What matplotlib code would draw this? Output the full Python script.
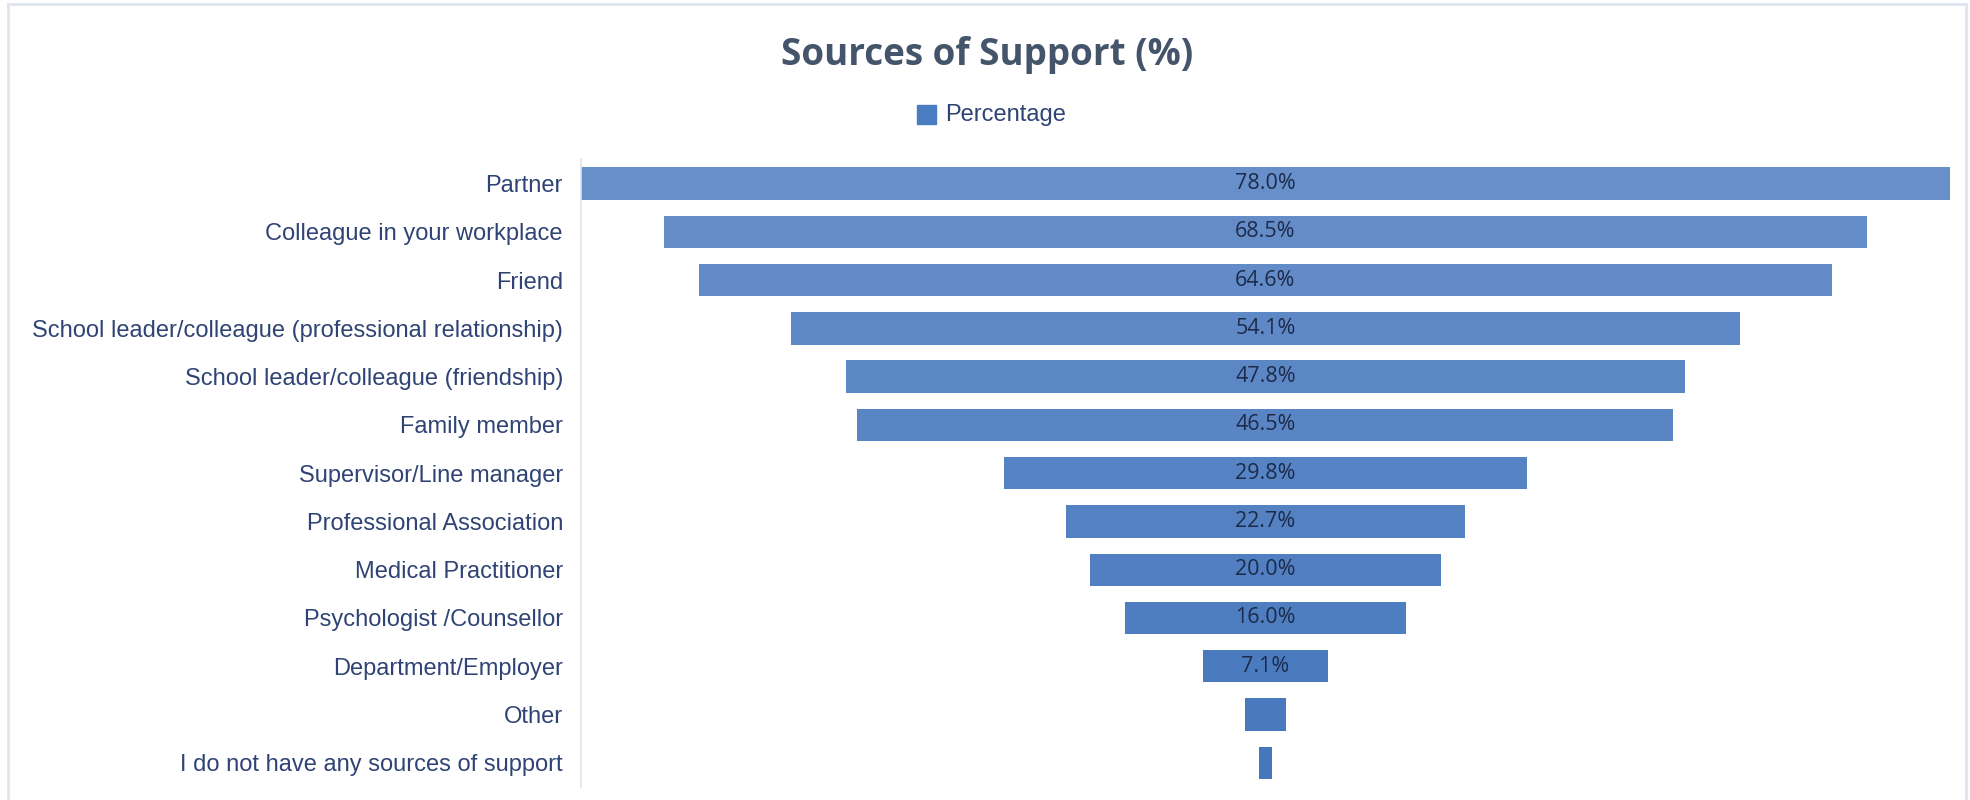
import matplotlib
matplotlib.use('Agg')
import matplotlib.pyplot as plt
import numpy as np
from matplotlib.colors import LinearSegmentedColormap
from matplotlib.patches import Rectangle

sources = [
    "Partner",
    "Colleague in your workplace",
    "Friend",
    "School leader/colleague (professional relationship)",
    "School leader/colleague (friendship)",
    "Family member",
    "Supervisor/Line manager",
    "Professional Association",
    "Medical Practitioner",
    "Psychologist /Counsellor",
    "Department/Employer",
    "Other",
    "I do not have any sources of support",
]
percentages = [78.0, 68.5, 64.6, 54.1, 47.8, 46.5, 29.8, 22.7, 20.0, 16.0, 7.1, 2.3, 0.7]

fig = plt.figure(figsize=(19.7, 8), dpi=100)
fig.patch.set_facecolor('white')

# light frame around the chart area
fig.add_artist(Rectangle((0.004, -0.01), 0.994, 1.005, transform=fig.transFigure,
                         fill=False, edgecolor='#dfe4ef', linewidth=2))

ax = fig.add_axes([0.2949, 0.0163, 0.6949, 0.7845])

# slightly darker fill toward the narrow end of the funnel
shade = LinearSegmentedColormap.from_list('shade', ['#678fc9', '#4677bd'])
colors = [shade(i / (len(sources) - 1)) for i in range(len(sources))]

vals = np.array(percentages)
y = np.arange(len(sources))
ax.barh(y, vals, left=-vals / 2, height=0.67, color=colors)

for yi, v in zip(y, vals):
    if v >= 5:
        ax.text(0, yi, f"{v:.1f}%", ha='center', va='center',
                fontsize=15.5, color='#1d2b4a', family='Open Sans')

ax.set_xlim(-vals.max() / 2, vals.max() / 2)
ax.set_ylim(len(sources) - 0.5, -0.5)
ax.set_yticks(y)
ax.set_yticklabels(sources, fontsize=17, color='#2f4474', family='Liberation Sans')
ax.tick_params(axis='y', length=0, pad=13)
ax.set_xticks([])
for side in ['top', 'right', 'bottom']:
    ax.spines[side].set_visible(False)
ax.spines['left'].set_color('#dde3ee')
ax.spines['left'].set_linewidth(1.2)

fig.text(987 / 1970, 1 - 55 / 800, "Sources of Support (%)", ha='center', va='center',
         fontsize=26.5, fontweight='bold', color='#44546a', family='Open Sans')

# legend entry
fig.add_artist(Rectangle((917 / 1970, 1 - 124 / 800), 19 / 1970, 19 / 800,
                         transform=fig.transFigure, color='#4a7cc2'))
fig.text(945 / 1970, 1 - 115 / 800, "Percentage", ha='left', va='center',
         fontsize=17, color='#2f4474', family='Liberation Sans')

plt.savefig("out.png", dpi=100)
plt.close()
